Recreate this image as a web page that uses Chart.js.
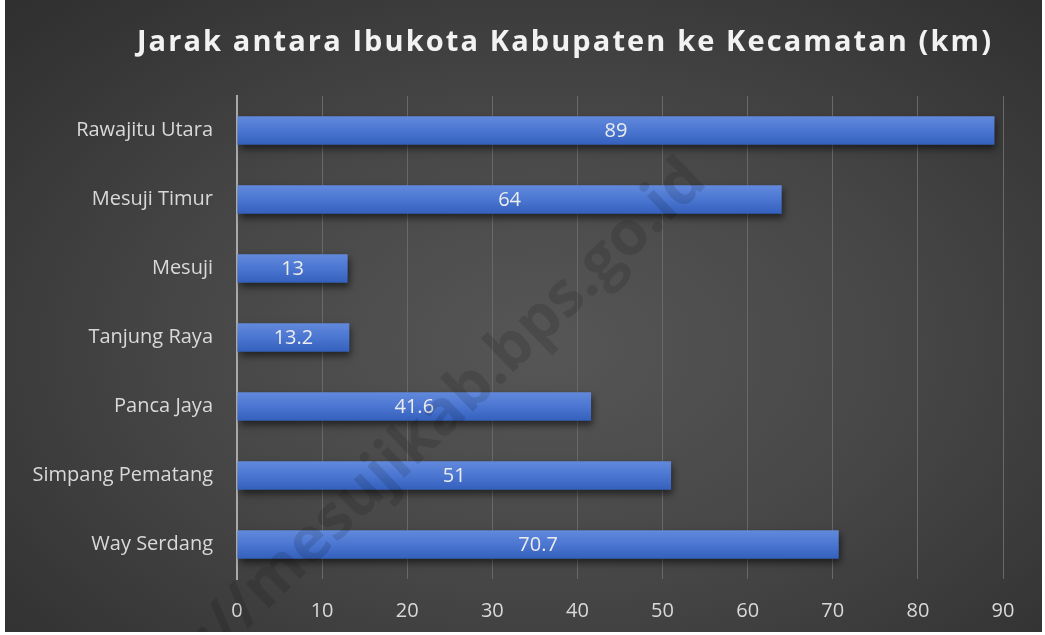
<!DOCTYPE html>
<html>
<head>
<meta charset="utf-8">
<script src="https://cdn.jsdelivr.net/npm/chart.js@4.4.1/dist/chart.umd.min.js"></script>
<style>
  html, body { margin: 0; padding: 0; background: #fff; }
  #wrap {
    position: absolute; left: 5px; top: 0; width: 1037px; height: 632px;
    background: radial-gradient(ellipse 75% 80% at 52% 55%, #565656 0%, #474747 45%, #343434 85%, #2e2e2e 100%);
  }
  #judul {
    position: absolute; left: 0; top: 20px; width: 1037px; padding-left: 83px; box-sizing: border-box;
    text-align: center; font-family: "Open Sans", sans-serif; font-weight: 700;
    font-size: 29px; letter-spacing: 2.1px; color: #f2f2f2;
  }
  canvas { position: absolute; left: 0; top: 0; }
</style>
</head>
<body>
<div id="wrap">
  <canvas id="myChart" width="1037" height="632"></canvas>
  <div id="judul">Jarak antara Ibukota Kabupaten ke Kecamatan (km)</div>
</div>
<script>
// data
const kecamatan = ["Rawajitu Utara", "Mesuji Timur", "Mesuji", "Tanjung Raya", "Panca Jaya", "Simpang Pematang", "Way Serdang"];
const jarak = [89, 64, 13, 13.2, 41.6, 51, 70.7];
const xTicks = [0, 10, 20, 30, 40, 50, 60, 70, 80, 90];
const watermark = "https://mesujikab.bps.go.id";

const ctx = document.getElementById('myChart');

// warna batang, gradient atas terang bawah gelap
function warnaBatang(c){
  let chart = c.chart;
  let y = chart.scales.y;
  if(!chart.chartArea || !y) return "#4472c4";
  let tengah = y.getPixelForValue(c.dataIndex);
  let g = chart.ctx.createLinearGradient(0, tengah - 14, 0, tengah + 14);
  g.addColorStop(0, "#6189dc");
  g.addColorStop(0.5, "#4b76d1");
  g.addColorStop(1, "#3461bd");
  return g;
}

const bayangan = {
  id: 'bayangan',
  beforeDatasetsDraw(chart){
    let c = chart.ctx;
    c.save();
    c.shadowColor = "rgba(0,0,0,0.55)";
    c.shadowBlur = 7;
    c.shadowOffsetX = 2;
    c.shadowOffsetY = 4;
  },
  afterDatasetsDraw(chart){
    chart.ctx.restore();
  }
};

const labelData = {
  id: 'labelData',
  afterDatasetsDraw(chart){
    let c = chart.ctx;
    let meta = chart.getDatasetMeta(0);
    c.save();
    c.font = "20px 'Open Sans', sans-serif";
    c.fillStyle = "#ececec";
    c.textAlign = "center";
    c.textBaseline = "middle";
    meta.data.forEach((bar, i) => {
      c.fillText(String(jarak[i]), (bar.base + bar.x) / 2, bar.y + 1);
    });
    c.restore();
  }
};

const tandaAir = {
  id: 'tandaAir',
  afterDraw(chart){
    let c = chart.ctx;
    c.save();
    c.translate(386, 466);
    c.rotate(-44 * Math.PI / 180);
    c.font = "bold 52px 'Open Sans', sans-serif";
    let w = c.measureText(watermark).width;
    let s = 850 / w;
    c.font = "bold " + (52 * s).toFixed(1) + "px 'Open Sans', sans-serif";
    c.fillStyle = "rgba(0,0,0,0.12)";
    c.textAlign = "center";
    c.textBaseline = "middle";
    c.fillText(watermark, 0, 0);
    c.restore();
  }
};

let myChart = new Chart(ctx, {
  type: "bar",
  data: {
    labels: kecamatan,
    datasets: [{
      data: jarak,
      backgroundColor: warnaBatang,
      borderWidth: 0,
      barPercentage: 0.41,
      categoryPercentage: 1
    }]
  },
  plugins: [bayangan, labelData, tandaAir],
  options: {
    indexAxis: 'y',
    responsive: false,
    animation: false,
    layout: { padding: { top: 96, left: 0, right: 39, bottom: 0 } },
    plugins: {
      legend: { display: false },
      tooltip: { enabled: false }
    },
    scales: {
      x: {
        min: 0,
        max: 90,
        afterBuildTicks(scale){
          scale.ticks = xTicks.map(v => ({ value: v }));
        },
        afterFit(scale){ scale.height = 53; },
        grid: { color: "#696969", lineWidth: 1, drawTicks: false },
        border: { display: false },
        ticks: {
          color: "#d9d9d9",
          font: { family: "'Open Sans', sans-serif", size: 20 },
          padding: 20
        }
      },
      y: {
        grid: { display: false, drawTicks: false },
        border: { display: true, color: "#a9a9a9", width: 2 },
        afterFit(scale){ scale.width = 232; },
        ticks: {
          color: "#d9d9d9",
          font: { family: "'Open Sans', sans-serif", size: 20 },
          padding: 24
        }
      }
    }
  }
});
</script>
</body>
</html>
